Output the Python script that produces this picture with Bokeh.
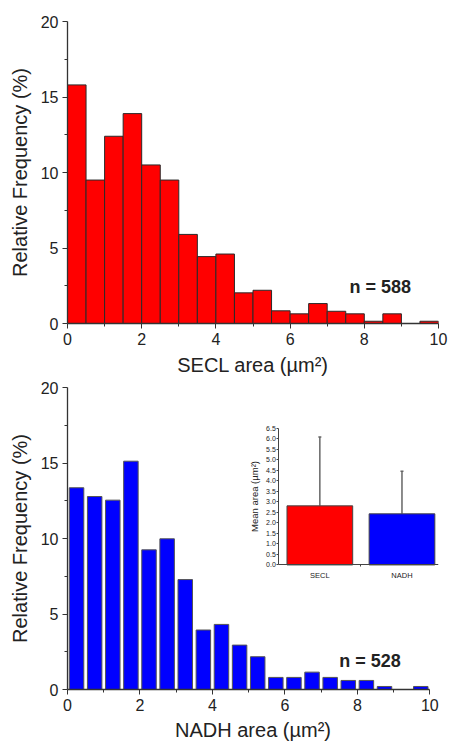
from bokeh.plotting import figure
from bokeh.layouts import column
from bokeh.models import (Range1d, LinearAxis, FixedTicker, Label, Whisker,
                          ColumnDataSource, TeeHead, PrintfTickFormatter)
from bokeh.embed import file_html
from bokeh.resources import INLINE

# ---------------- data ----------------
bin_edges = [0.0, 0.5, 1.0, 1.5, 2.0, 2.5, 3.0, 3.5, 4.0, 4.5, 5.0,
             5.5, 6.0, 6.5, 7.0, 7.5, 8.0, 8.5, 9.0, 9.5, 10.0]
secl_freq = [15.8, 9.5, 12.4, 13.9, 10.5, 9.5, 5.9, 4.43, 4.6, 2.03,
             2.2, 0.84, 0.64, 1.32, 0.81, 0.64, 0.15, 0.64, 0.0, 0.15]
nadh_freq = [13.36, 12.78, 12.54, 15.12, 9.25, 9.98, 7.28, 3.94, 4.31, 2.94,
             2.17, 0.8, 0.8, 1.15, 0.8, 0.6, 0.6, 0.2, 0.0, 0.2]
n_secl = 588
n_nadh = 528
freq_ticks = [0, 5, 10, 15, 20]
freq_minor = [2.5, 7.5, 12.5, 17.5]
area_ticks = [0, 2, 4, 6, 8, 10]
area_minor = [1, 3, 5, 7, 9]
inset_groups = ["SECL", "NADH"]
inset_pos = [1, 2]
inset_mean = [2.81, 2.43]
inset_sd = [3.28, 2.03]
inset_ticks = [0.0, 0.5, 1.0, 1.5, 2.0, 2.5, 3.0, 3.5, 4.0, 4.5, 5.0, 5.5, 6.0, 6.5]
inset_colors = ["#ff0000", "#0000ff"]

FONT = "Liberation Sans"
TXT = "#222222"
AXC = "#333333"


def style_axis(ax, label, horizontal, label_standoff):
    ax.axis_label = label
    ax.axis_label_text_font = FONT
    ax.axis_label_text_font_size = "20px"
    ax.axis_label_text_font_style = "normal"
    ax.axis_label_text_color = TXT
    ax.axis_label_standoff = label_standoff
    ax.major_label_text_font = FONT
    ax.major_label_text_font_size = "16px"
    ax.major_label_text_color = TXT
    ax.major_label_standoff = 4
    ax.axis_line_color = AXC
    ax.axis_line_width = 1.3
    ax.major_tick_line_color = AXC
    ax.minor_tick_line_color = AXC
    ax.major_tick_in = 0
    ax.major_tick_out = 5
    ax.minor_tick_in = 0
    ax.minor_tick_out = 3


def hist_fig(height, left, right, top, bottom, xmax):
    p = figure(width=451, height=height, x_range=Range1d(0, xmax),
               y_range=Range1d(0, 20), output_backend="svg",
               toolbar_location=None, min_border_left=left,
               min_border_right=right, min_border_top=top,
               min_border_bottom=bottom)
    p.outline_line_color = None
    p.grid.visible = False
    p.background_fill_color = "white"
    p.border_fill_color = "white"
    return p


# ---------------- top histogram (SECL) ----------------
p1 = hist_fig(380, 64, 13, 21, 57, 10)
p1.quad(left=bin_edges[:-1], right=bin_edges[1:], bottom=0, top=secl_freq,
        fill_color="#ff0000", line_color="#2a2a2a", line_width=1)
style_axis(p1.xaxis[0], "SECL area (µm²)", True, 6)
style_axis(p1.yaxis[0], "Relative Frequency (%)", False, 7)
p1.xaxis.ticker = FixedTicker(ticks=area_ticks, minor_ticks=area_minor)
p1.yaxis.ticker = FixedTicker(ticks=freq_ticks, minor_ticks=freq_minor)
p1.xaxis.bounds = (0, 10)
p1.add_layout(Label(x=7.6, y=2.4, text=f"n = {n_secl}", text_font=FONT,
                    text_font_size="18px", text_font_style="bold",
                    text_color=TXT, text_baseline="middle"))

# ---------------- bottom histogram (NADH) ----------------
xmax2 = 10.24
p2 = hist_fig(364, 67, 0, 7, 55, xmax2)
centers = [(a + b) / 2 for a, b in zip(bin_edges[:-1], bin_edges[1:])]
p2.vbar(x=centers, width=0.4, bottom=0, top=nadh_freq,
        fill_color="#0000ff", line_color="#555555", line_width=1)
style_axis(p2.xaxis[0], "NADH area (µm²)", True, 5)
style_axis(p2.yaxis[0], "Relative Frequency (%)", False, 7)
p2.xaxis.ticker = FixedTicker(ticks=area_ticks, minor_ticks=area_minor)
p2.yaxis.ticker = FixedTicker(ticks=freq_ticks, minor_ticks=freq_minor)
p2.xaxis.bounds = (0, 10)
p2.add_layout(Label(x=7.5, y=1.9, text=f"n = {n_nadh}", text_font=FONT,
                    text_font_size="18px", text_font_style="bold",
                    text_color=TXT, text_baseline="middle"))

# ---------------- inset (mean area) inside bottom panel ----------------
# inset box expressed in main-data coordinates
in_y0, in_y1 = 8.25, 17.3        # main y where inset y = 0 and 6.5
in_x1, in_x2 = 6.965, 9.232      # main x where inset x = 1 and 2
ys = 6.5 / (in_y1 - in_y0)
xs = 1.0 / (in_x2 - in_x1)
p2.extra_y_ranges = {"inset": Range1d(0 - in_y0 * ys, 6.5 + (20 - in_y1) * ys)}
p2.extra_x_ranges = {"inset": Range1d(1 - in_x1 * xs, 1 + (xmax2 - in_x1) * xs)}

src = ColumnDataSource(dict(x=inset_pos, top=inset_mean, color=inset_colors,
                            up=[m + s for m, s in zip(inset_mean, inset_sd)]))
p2.vbar(x="x", width=0.8, bottom=0, top="top", fill_color="color",
        line_color="#444444", line_width=1, source=src,
        x_range_name="inset", y_range_name="inset")
p2.add_layout(Whisker(base="x", lower="top", upper="up", source=src,
                      dimension="height", line_color="#666666", line_width=1.5,
                      lower_head=None,
                      upper_head=TeeHead(size=3, line_color="#666666", line_width=1.5),
                      x_range_name="inset", y_range_name="inset"))

iy = LinearAxis(x_range_name="inset", y_range_name="inset", fixed_location=0.5,
                bounds=(0, 6.5), ticker=FixedTicker(ticks=inset_ticks),
                formatter=PrintfTickFormatter(format="%.1f"))
iy.axis_label = "Mean area (µm²)"
iy.axis_label_text_font = FONT
iy.axis_label_text_font_size = "9.5px"
iy.axis_label_text_font_style = "normal"
iy.axis_label_text_color = TXT
iy.axis_label_standoff = 3
iy.major_label_text_font = FONT
iy.major_label_text_font_size = "7px"
iy.major_label_text_color = TXT
iy.major_label_standoff = 1
iy.major_tick_in = 0
iy.major_tick_out = 2
iy.minor_tick_out = 0
iy.minor_tick_in = 0
iy.axis_line_color = "#444444"
iy.major_tick_line_color = "#444444"
p2.add_layout(iy, "left")

ix = LinearAxis(x_range_name="inset", y_range_name="inset", fixed_location=0,
                bounds=(0.5, 2.5),
                ticker=FixedTicker(ticks=inset_pos, minor_ticks=[1.5]),
                major_label_overrides={k: v for k, v in zip(inset_pos, inset_groups)})
ix.major_label_text_font = FONT
ix.major_label_text_font_size = "7.5px"
ix.major_label_text_color = TXT
ix.major_label_standoff = 4
ix.major_tick_in = 0
ix.major_tick_out = 0
ix.minor_tick_in = 0
ix.minor_tick_out = 2
ix.axis_line_color = "#444444"
ix.minor_tick_line_color = "#444444"
p2.add_layout(ix, "below")

layout = column(p1, p2, spacing=0)
open("out.html", "w").write(file_html(layout, INLINE))
